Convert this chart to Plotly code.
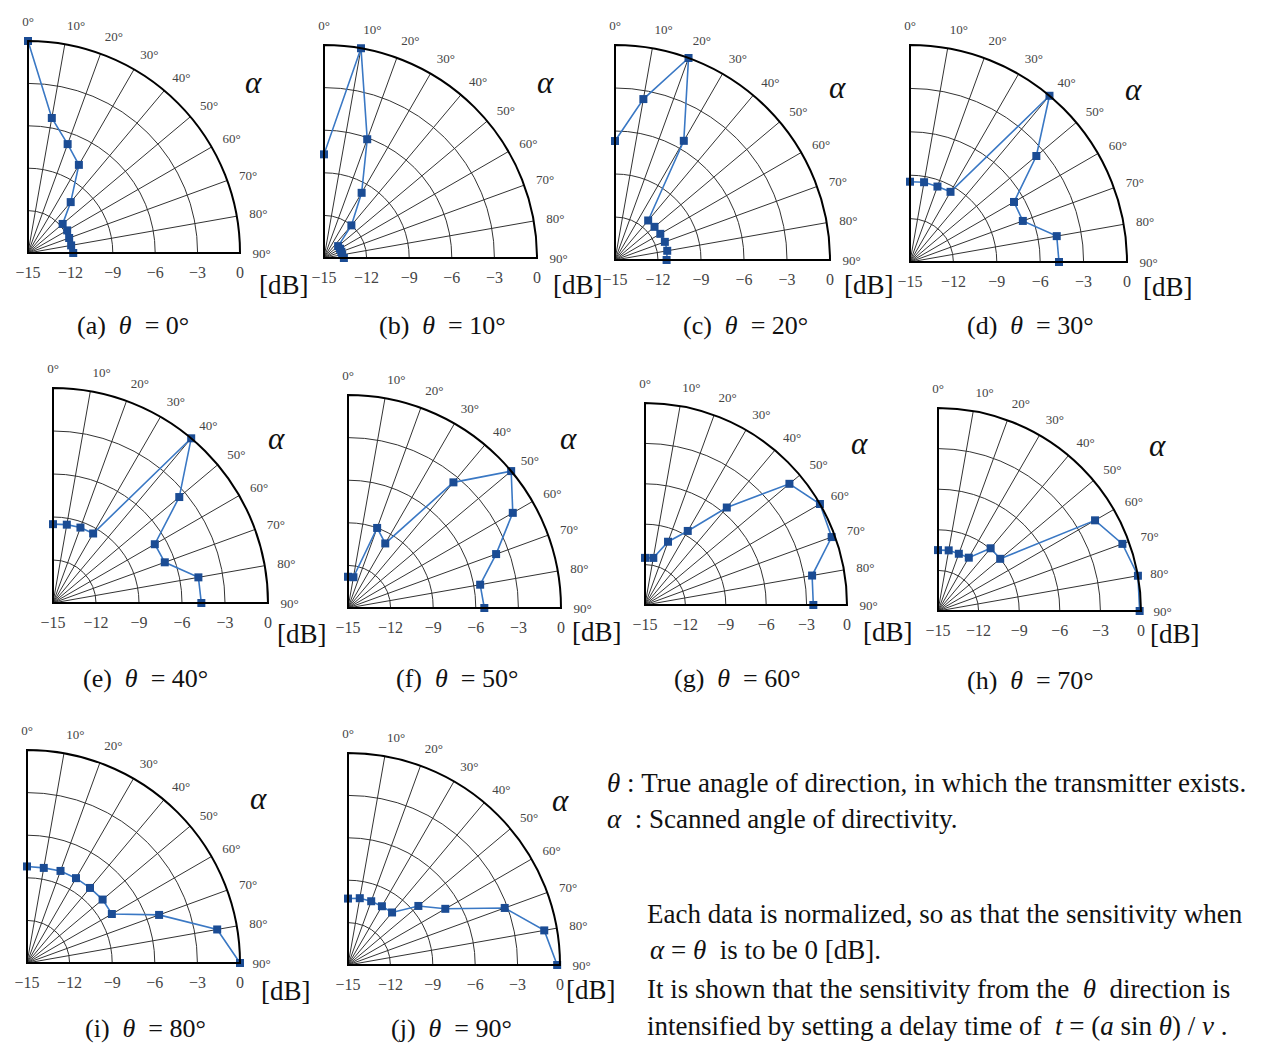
import plotly.graph_objects as go

W, H = 1267, 1043
OFF = 8                      # page body margin of the rendered html
FW, FH = W - OFF, H - OFF
RMIN, RMAX = -15, 0

# ---------------- data ----------------
alpha_deg = [0, 10, 20, 30, 40, 50, 60, 70, 80, 90]
alpha_ticktext = ["0°", "10°", "20°", "30°", "40°", "50°", "60°", "70°", "80°", "90°"]
db_tickvals = [-15, -12, -9, -6, -3, 0]
db_ticktext = ["−15", "−12", "−9", "−6", "−3", "0"]

panel_letters = ["a", "b", "c", "d", "e", "f", "g", "h", "i", "j"]
theta_true = [0, 10, 20, 30, 40, 50, 60, 70, 80, 90]

db_theta_0 = [0.0, -5.3, -6.8, -7.8, -10.3, -11.8, -11.8, -11.9, -11.9, -11.8]
db_theta_10 = [-7.7, 0.0, -6.1, -9.7, -12.0, -13.7, -13.7, -13.7, -13.7, -13.6]
db_theta_20 = [-6.7, -3.6, 0.0, -5.4, -11.4, -11.4, -11.35, -11.3, -11.3, -11.4]
db_theta_30 = [-9.45, -9.4, -9.45, -9.4, 0.0, -3.6, -6.7, -6.7, -4.7, -4.7]
db_theta_40 = [-9.5, -9.45, -9.4, -9.4, 0.0, -3.5, -6.8, -6.7, -4.7, -4.65]
db_theta_50 = [-12.8, -12.8, -9.0, -9.75, -3.45, 0.0, -1.6, -3.9, -5.55, -5.4]
db_theta_60 = [-11.5, -11.45, -10.0, -8.65, -5.55, -1.0, 0.0, -0.25, -2.4, -2.5]
db_theta_70 = [-10.5, -10.45, -10.5, -10.45, -8.95, -9.0, -1.6, -0.5, 0.0, -0.1]
db_theta_80 = [-8.2, -8.2, -8.1, -8.1, -8.1, -8.05, -8.1, -5.1, -1.4, 0.0]
db_theta_90 = [-10.3, -10.2, -10.2, -10.2, -10.15, -8.5, -7.05, -3.2, -0.9, -0.2]

series = [db_theta_0, db_theta_10, db_theta_20, db_theta_30, db_theta_40,
          db_theta_50, db_theta_60, db_theta_70, db_theta_80, db_theta_90]

legend_lines = [
    "<i>θ</i> : True anagle of direction, in which the transmitter exists.",
    "<i>α</i>\u00a0 : Scanned angle of directivity.",
    "Each data is normalized, so as that the sensitivity when",
    "<i>α</i> = <i>θ</i>\u00a0 is to be 0 [dB].",
    "It is shown that the sensitivity from the\u00a0 <i>θ</i>\u00a0 direction is",
    "intensified by setting a delay time of\u00a0 <i>t</i> = (<i>a</i> sin <i>θ</i>) / <i>v</i> .",
]

# ---------------- layout geometry (window pixels) ----------------
# polar centre x, centre y, radius
panel_geom = [(28, 253, 212), (324, 258, 213), (615, 260, 215), (910, 262, 217),
              (53, 603, 215), (348, 608, 213), (645, 605, 202), (938, 611, 203),
              (27, 963, 213), (348, 965, 212)]
caption_pos = [(133, 325), (442, 325), (745, 325), (1030, 325),
               (145, 678), (457, 678), (737, 678), (1031, 680),
               (145, 1028), (451, 1028)]
alpha_pos = [(253, 83), (545, 82), (838, 87), (1133, 90),
             (276, 438), (568, 438), (859, 443), (1157, 445),
             (258, 798), (560, 800)]
db_pos = [(284, 285), (578, 285), (869, 285), (1168, 287),
          (302, 634), (597, 632), (888, 632), (1175, 634),
          (286, 991), (591, 990)]
legend_pos = [(605, 783), (605, 819), (645, 914), (648, 950), (645, 989), (645, 1026)]

SERIF = "Liberation Serif"
GRID = "#333333"
MARKER = "#1b4c94"
LINE = "#3a78c4"

fig = go.Figure()
layout = dict(width=FW, height=FH, margin=dict(l=0, r=0, t=0, b=0),
              paper_bgcolor="white", plot_bgcolor="white", showlegend=False,
              annotations=[])


def px(x):
    return (x - OFF) / FW


def py(y):
    return 1 - (y - OFF) / FH


for i, vals in enumerate(series):
    name = "polar" if i == 0 else f"polar{i + 1}"
    cx, cy, R = panel_geom[i]
    layout[name] = dict(
        domain=dict(x=[px(cx), px(cx + R)], y=[py(cy), py(cy - R)]),
        sector=[0, 90],
        bgcolor="white",
        radialaxis=dict(
            range=[RMIN, RMAX], tickvals=db_tickvals, ticktext=db_ticktext,
            angle=0, side="clockwise", showline=True, linecolor="black", linewidth=2,
            showgrid=True, gridcolor=GRID, gridwidth=1,
            ticks="outside", ticklen=5, tickcolor="rgba(0,0,0,0)",
            tickfont=dict(family=SERIF, size=16, color="#444"), tickangle=0,
        ),
        angularaxis=dict(
            rotation=90, direction="clockwise", tickmode="array",
            tickvals=alpha_deg, ticktext=alpha_ticktext,
            showline=True, linecolor="black", linewidth=2,
            showgrid=True, gridcolor=GRID, gridwidth=1,
            ticks="outside", ticklen=9, tickcolor="rgba(0,0,0,0)",
            tickfont=dict(family=SERIF, size=13, color="#444"),
        ),
    )
    # 0-degree edge of the quarter plot (axis decoration)
    fig.add_trace(go.Scatterpolar(
        r=[RMIN, RMAX], theta=[alpha_deg[0], alpha_deg[0]], mode="lines",
        line=dict(color="black", width=2), subplot=name, hoverinfo="skip"))
    fig.add_trace(go.Scatterpolar(
        r=vals, theta=alpha_deg, mode="lines+markers", subplot=name,
        line=dict(color=LINE, width=1.6),
        marker=dict(symbol="square", size=8, color=MARKER),
        cliponaxis=False,
        name=f"θ = {theta_true[i]}°"))

    ann = layout["annotations"]
    x, y = caption_pos[i]
    ann.append(dict(x=px(x), y=py(y), xref="paper", yref="paper", showarrow=False,
                    xanchor="center", yanchor="middle",
                    text=f"({panel_letters[i]})\u00a0 <i>θ</i>\u00a0 = {theta_true[i]}°",
                    font=dict(family=SERIF, size=26, color="#111")))
    x, y = alpha_pos[i]
    ann.append(dict(x=px(x), y=py(y), xref="paper", yref="paper", showarrow=False,
                    xanchor="center", yanchor="middle", text="<i>α</i>",
                    font=dict(family=SERIF, size=31, color="#111")))
    x, y = db_pos[i]
    ann.append(dict(x=px(x), y=py(y), xref="paper", yref="paper", showarrow=False,
                    xanchor="center", yanchor="middle", text="[dB]",
                    font=dict(family=SERIF, size=27, color="#111")))

for (x, y), t in zip(legend_pos, legend_lines):
    layout["annotations"].append(dict(
        x=px(x), y=py(y), xref="paper", yref="paper", showarrow=False,
        xanchor="left", yanchor="middle", text=t,
        font=dict(family=SERIF, size=27, color="#111")))

fig.update_layout(**layout)
fig.write_html("out.html")
